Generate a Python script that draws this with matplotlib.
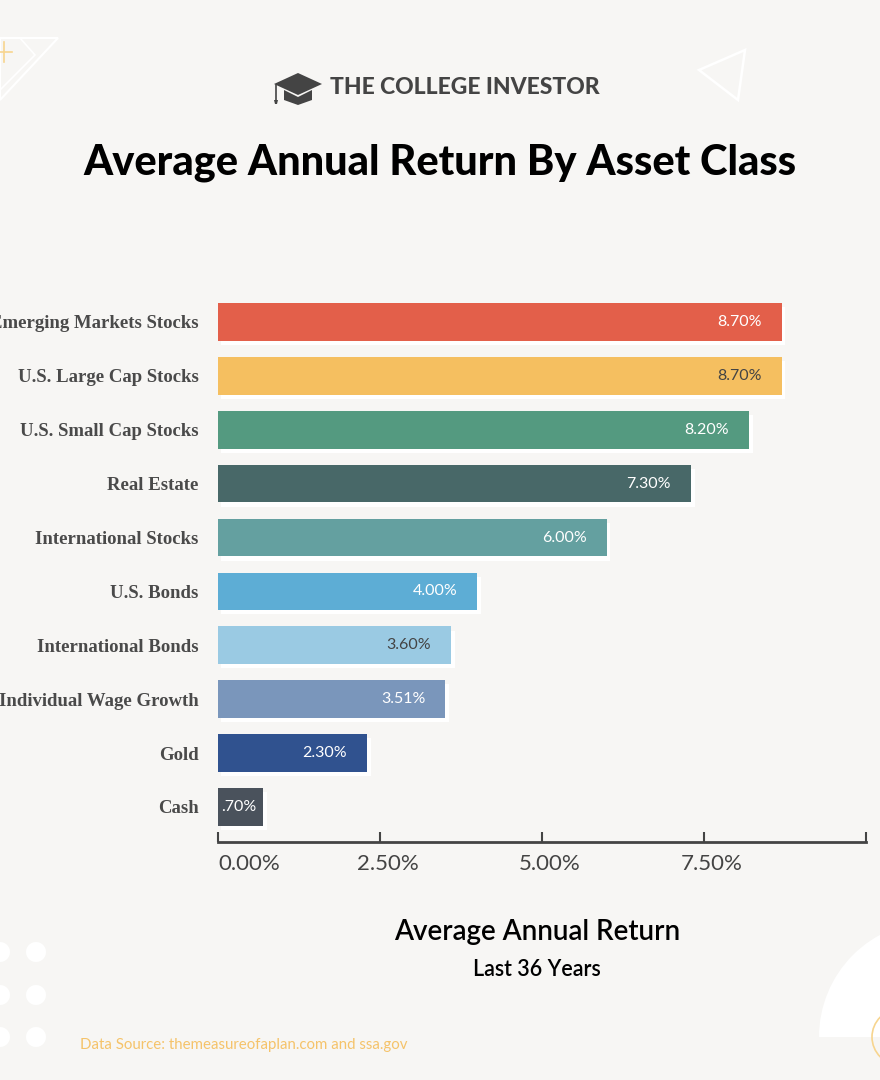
import matplotlib
matplotlib.use('Agg')
import matplotlib.pyplot as plt
import matplotlib.patheffects as pe
from matplotlib.patches import Polygon, Circle, Wedge
from matplotlib.transforms import ScaledTranslation

categories = ['Emerging Markets Stocks', 'U.S. Large Cap Stocks', 'U.S. Small Cap Stocks',
              'Real Estate', 'International Stocks', 'U.S. Bonds', 'International Bonds',
              'Individual Wage Growth', 'Gold', 'Cash']
returns = [8.70, 8.70, 8.20, 7.30, 6.00, 4.00, 3.60, 3.51, 2.30, 0.70]
value_labels = ['8.70%', '8.70%', '8.20%', '7.30%', '6.00%', '4.00%', '3.60%', '3.51%', '2.30%', '.70%']
colors = ['#E35F4A', '#F5BF60', '#549A80', '#486868', '#64A0A0',
          '#5DADD5', '#9ACAE3', '#7A96BB', '#30528F', '#4A525C']
label_colors = ['white', '#444444', 'white', 'white', 'white',
                'white', '#444444', 'white', 'white', 'white']
xticks = [0, 2.5, 5, 7.5, 10]
xtick_labels = ['0.00%', '2.50%', '5.00%', '7.50%', '']

BG = '#F7F6F4'
W, H = 880, 1080

fig = plt.figure(figsize=(8.8, 10.8), dpi=100)
fig.patch.set_facecolor(BG)

# background decorations in pixel coordinates
deco = fig.add_axes([0, 0, 1, 1], zorder=0)
deco.set_xlim(0, W)
deco.set_ylim(H, 0)
deco.axis('off')
deco.patch.set_alpha(0)
deco.add_patch(Polygon([(0, 38), (58, 38), (0, 100)], closed=True, fill=False, ec='white', lw=1.5))
deco.add_patch(Polygon([(20, 38), (35, 55), (0, 90)], closed=False, fill=False, ec='white', lw=1.2))
deco.plot([0, 12], [52, 52], color='#F7D58F', lw=1.2)
deco.plot([4, 4], [42, 62], color='#F7D58F', lw=1.2)
deco.add_patch(Polygon([(745, 50), (738, 100), (699, 70)], closed=True, fill=False, ec='white', lw=1.8))
for cx in (0, 36):
    for cy in (952, 995, 1037):
        deco.add_patch(Circle((cx, cy), 10, color='white', lw=0))
deco.add_patch(Wedge((935, 1037), 116, 180, 360, color='white', lw=0))
deco.add_patch(Circle((900, 1037), 28, fill=False, ec='#F7D58F', lw=1.2))

# logo
deco.add_patch(Polygon([(274, 84), (298, 73), (322, 84), (298, 95)], closed=True, color='#444444', lw=0))
deco.add_patch(Polygon([(284, 90), (298, 97), (312, 90), (312, 100), (298, 105), (284, 100)],
                       closed=True, color='#444444', lw=0))
deco.plot([276, 276], [85, 100], color='#444444', lw=1.2)
deco.add_patch(Polygon([(274, 100), (278, 100), (277, 104), (275, 104)], closed=True, color='#444444', lw=0))
fig.text(330 / W, 1 - 88 / H, 'THE COLLEGE INVESTOR', family='Lato', weight='black',
         fontsize=16.5, color='#444444', ha='left', va='center')

fig.text(440 / W, 1 - 163 / H, 'Average Annual Return By Asset Class', family='Lato',
         weight='black', fontsize=30, color='black', ha='center', va='center')

# chart
ax = fig.add_axes([218 / W, 1 - 842 / H, 648 / W, 547 / H], zorder=2)
ax.set_facecolor('none')
ypos = list(range(len(categories)))
bars = ax.barh(ypos, returns, height=0.7, color=colors, zorder=3)
for b in bars:
    b.set_path_effects([pe.SimplePatchShadow(offset=(2.5, -3), shadow_rgbFace='white', alpha=1),
                        pe.Normal()])
for y, v, t, c in zip(ypos, returns, value_labels, label_colors):
    if v < 1:
        # short bar: label starts at the bar's left edge
        ax.annotate(t, xy=(0, y), xytext=(2, 0), textcoords='offset points', ha='left',
                    va='center', color=c, family='Lato', fontsize=11.5, zorder=4)
    else:
        ax.annotate(t, xy=(v, y), xytext=(-14.5, 0), textcoords='offset points', ha='right',
                    va='center', color=c, family='Lato', fontsize=11.5, zorder=4)

ax.set_xlim(0, 10)
ax.set_ylim(9.65, -0.5)
ax.set_yticks(ypos)
ax.set_yticklabels(categories, family='Liberation Serif', weight='bold', fontsize=13.5, color='#4A4A4A')
ax.tick_params(axis='y', length=0, pad=14)
ax.set_xticks(xticks)
ax.set_xticklabels(xtick_labels, family='Lato', fontsize=16, color='#444444')
ax.tick_params(axis='x', direction='in', length=7, width=1.5, color='#444444', pad=9)
xt = ax.get_xticklabels()
xt[0].set_horizontalalignment('left')
for lbl in xt[1:]:
    lbl.set_transform(lbl.get_transform() + ScaledTranslation(0.08, 0, fig.dpi_scale_trans))
for s in ['top', 'right', 'left']:
    ax.spines[s].set_visible(False)
ax.spines['bottom'].set_color('#444444')
ax.spines['bottom'].set_linewidth(2)

fig.text(537 / W, 1 - 932 / H, 'Average Annual Return', family='Lato', weight='semibold',
         fontsize=20, color='black', ha='center', va='center')
fig.text(537 / W, 1 - 970 / H, 'Last 36 Years', family='Lato', weight='semibold',
         fontsize=15.5, color='black', ha='center', va='center')
fig.text(80 / W, 1 - 1045 / H, 'Data Source: themeasureofaplan.com and ssa.gov', family='Lato',
         fontsize=10.8, color='#F5C36A', ha='left', va='center')

fig.savefig('out.png', dpi=100, facecolor=BG)
